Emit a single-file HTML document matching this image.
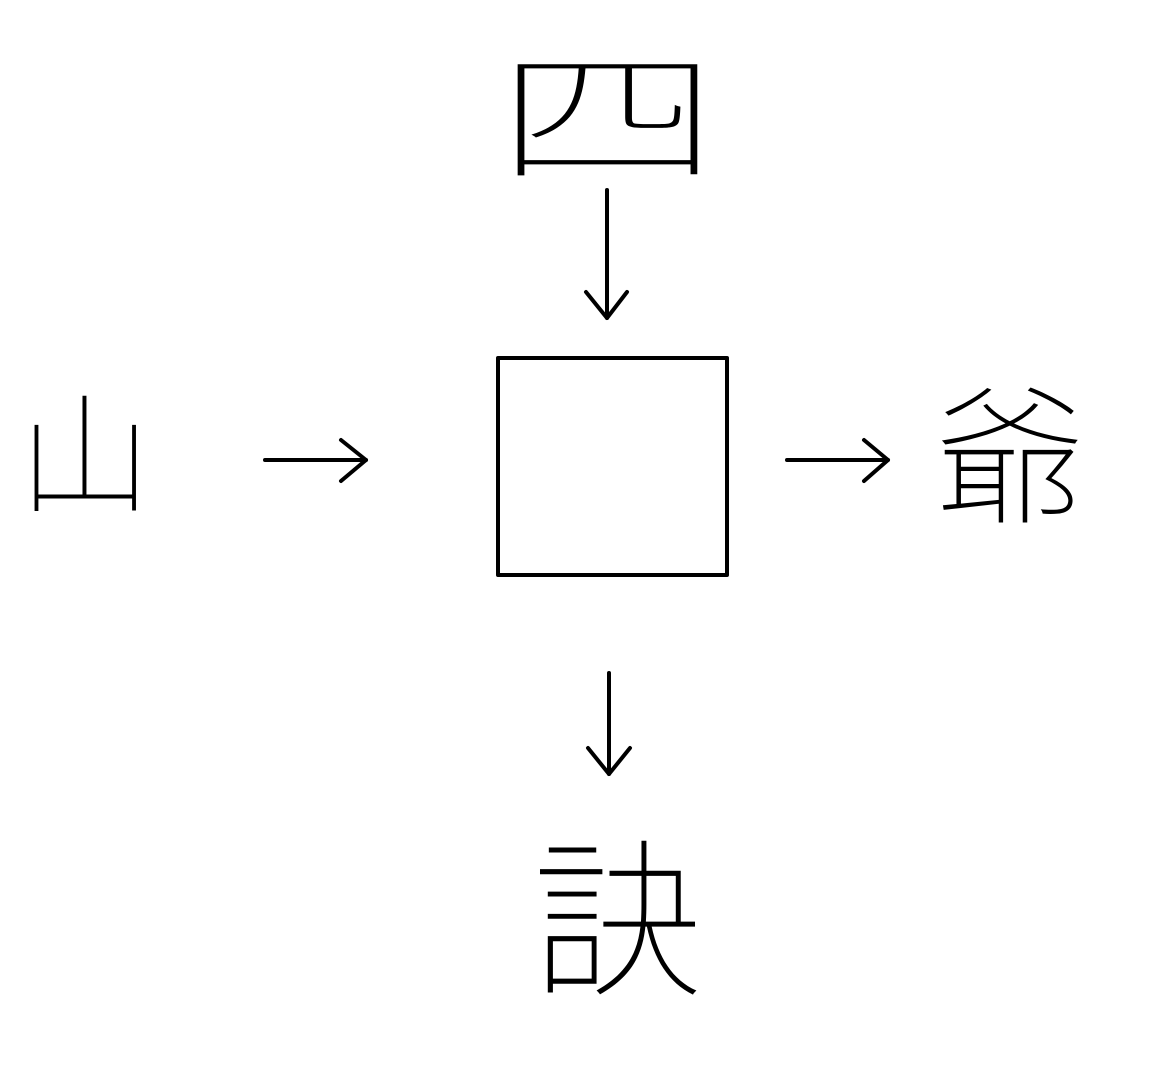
<!DOCTYPE html>
<html><head><meta charset="utf-8"><style>
html,body{margin:0;padding:0;background:#fff;}
svg{display:block}
text{font-family:"Liberation Sans","Noto Sans CJK JP",sans-serif;fill:#000;text-anchor:middle;dominant-baseline:central;font-weight:100}
</style></head><body>
<svg width="1174" height="1089" viewBox="0 0 1174 1089">
<g stroke="#000" stroke-width="4" fill="none" stroke-linecap="round" stroke-linejoin="round">
<rect x="498" y="358" width="229" height="217"/>
<line x1="607" y1="190" x2="607" y2="318"/><polyline points="586,292 607,318 627,292"/>
<line x1="265" y1="460" x2="366" y2="460"/><polyline points="341,440 366,460 341,481"/>
<line x1="787" y1="460" x2="888" y2="460"/><polyline points="864,440 888,460 864,481"/>
<line x1="609" y1="673" x2="609" y2="774"/><polyline points="588,748 609,774 630,748"/>
</g>
<text transform="translate(607,120) scale(1.57,1)" x="0" y="0" font-size="143">四</text>
<text x="85" y="458" font-size="132">山</text>
<text x="1010" y="460" font-size="150">爺</text>
<text x="617" y="924" font-size="170">訣</text>
</svg>
</body></html>
